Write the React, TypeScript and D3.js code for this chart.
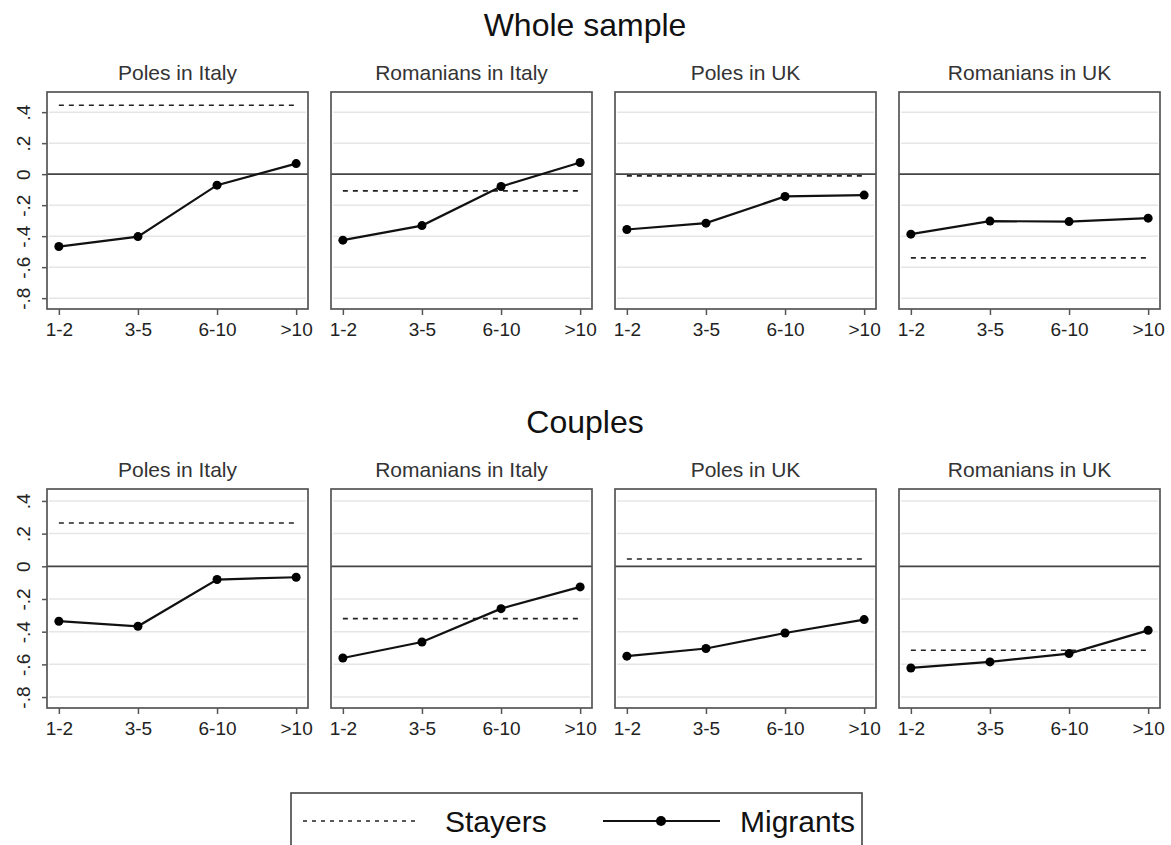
import React, { useEffect, useRef } from "react";
import * as d3 from "d3";

const categories = ["1-2", "3-5", "6-10", ">10"];
const groups = ["Poles in Italy", "Romanians in Italy", "Poles in UK", "Romanians in UK"];
const yTicks = [-0.8, -0.6, -0.4, -0.2, 0, 0.2, 0.4];

// whole sample
const wholeMigrants = [
  [-0.467, -0.403, -0.071, 0.068],
  [-0.426, -0.332, -0.08, 0.075],
  [-0.357, -0.316, -0.144, -0.135],
  [-0.387, -0.303, -0.306, -0.284]
];
const wholeStayers = [0.445, -0.108, -0.011, -0.54];

// couples
const couplesMigrants = [
  [-0.336, -0.367, -0.081, -0.067],
  [-0.561, -0.463, -0.259, -0.126],
  [-0.55, -0.503, -0.408, -0.326],
  [-0.622, -0.585, -0.534, -0.392]
];
const couplesStayers = [0.265, -0.32, 0.045, -0.514];

const FONT = "'Liberation Sans', Arial, sans-serif";

// stata style: -.8, .2, 0
const fmtTick = (v: number) => {
  if (v === 0) return "0";
  const s = Math.abs(v).toFixed(1).replace(/^0/, "");
  return (v < 0 ? "-" : "") + s;
};

export default function App() {
  const ref = useRef<SVGSVGElement>(null);

  useEffect(() => {
    const svg = d3.select(ref.current);
    svg.selectAll("*").remove();

    const panelLefts = [47, 331, 615, 899];
    const panelW = 261;

    const rows = [
      { title: "Whole sample", titleY: 36, top: 92, bottom: 309, dom: [-0.87, 0.53], migrants: wholeMigrants, stayers: wholeStayers },
      { title: "Couples", titleY: 433, top: 489, bottom: 708, dom: [-0.867, 0.473], migrants: couplesMigrants, stayers: couplesStayers }
    ];

    rows.forEach(row => {
      svg
        .append("text")
        .attr("x", 585)
        .attr("y", row.titleY)
        .attr("text-anchor", "middle")
        .attr("font-size", 32)
        .attr("fill", "#111")
        .text(row.title);

      const y = d3.scaleLinear().domain(row.dom).range([row.bottom, row.top]);

      groups.forEach((g, i) => {
        const left = panelLefts[i];
        const x = d3
          .scalePoint<string>()
          .domain(categories)
          .range([left, left + panelW])
          .padding(0.15);
        const p = svg.append("g");

        p.append("text")
          .attr("x", left + panelW / 2)
          .attr("y", row.top - 12)
          .attr("text-anchor", "middle")
          .attr("font-size", 21)
          .attr("fill", "#333")
          .text(g);

        // grid
        p.selectAll("line.grid")
          .data(yTicks.filter(t => t !== 0))
          .enter()
          .append("line")
          .attr("x1", left + 2)
          .attr("x2", left + panelW - 2)
          .attr("y1", d => y(d))
          .attr("y2", d => y(d))
          .attr("stroke", "#e6e6e6")
          .attr("stroke-width", 1.5);

        // zero line
        p.append("line")
          .attr("x1", left)
          .attr("x2", left + panelW)
          .attr("y1", y(0))
          .attr("y2", y(0))
          .attr("stroke", "#444")
          .attr("stroke-width", 1.7);

        // stayers
        p.append("line")
          .attr("x1", x(categories[0])!)
          .attr("x2", x(categories[categories.length - 1])!)
          .attr("y1", y(row.stayers[i]))
          .attr("y2", y(row.stayers[i]))
          .attr("stroke", "#222")
          .attr("stroke-width", 1.6)
          .attr("stroke-dasharray", "5,5");

        // migrants
        const line = d3
          .line<number>()
          .x((_, j) => x(categories[j])!)
          .y(d => y(d));
        p.append("path")
          .attr("d", line(row.migrants[i]))
          .attr("fill", "none")
          .attr("stroke", "#111")
          .attr("stroke-width", 2.2);
        p.selectAll("circle")
          .data(row.migrants[i])
          .enter()
          .append("circle")
          .attr("cx", (_, j) => x(categories[j])!)
          .attr("cy", d => y(d))
          .attr("r", 4.5)
          .attr("fill", "#000");

        // frame
        p.append("rect")
          .attr("x", left)
          .attr("y", row.top)
          .attr("width", panelW)
          .attr("height", row.bottom - row.top)
          .attr("fill", "none")
          .attr("stroke", "#555")
          .attr("stroke-width", 1.7);

        // x axis
        const xa = p.append("g").attr("transform", `translate(0,${row.bottom})`);
        xa.call(d3.axisBottom(x).tickSize(6).tickPadding(8));
        xa.select(".domain").remove();
        xa.selectAll("line").attr("stroke", "#555").attr("stroke-width", 1.5);
        xa.selectAll("text")
          .attr("font-size", 19)
          .attr("font-family", FONT)
          .attr("fill", "#222");

        if (i === 0) {
          const ya = p.append("g").attr("transform", `translate(${left},0)`);
          ya.call(
            d3
              .axisLeft(y)
              .tickValues(yTicks)
              .tickSize(5)
              .tickPadding(4)
              .tickFormat(d => fmtTick(+d))
          );
          ya.select(".domain").remove();
          ya.selectAll("line").attr("stroke", "#555").attr("stroke-width", 1.5);
          ya.selectAll("text")
            .attr("font-size", 19)
            .attr("font-family", FONT)
            .attr("fill", "#222")
            .attr("text-anchor", "middle")
            .attr("x", null)
            .attr("dy", null)
            .attr("transform", "translate(-17,0) rotate(-90)");
        }
      });
    });

    // legend
    const lg = svg.append("g");
    lg.append("rect")
      .attr("x", 291)
      .attr("y", 793)
      .attr("width", 571)
      .attr("height", 80)
      .attr("fill", "#fff")
      .attr("stroke", "#444")
      .attr("stroke-width", 1.6);
    lg.append("line")
      .attr("x1", 303)
      .attr("x2", 420)
      .attr("y1", 821)
      .attr("y2", 821)
      .attr("stroke", "#222")
      .attr("stroke-width", 1.5)
      .attr("stroke-dasharray", "4,5");
    lg.append("text")
      .attr("x", 445)
      .attr("y", 832)
      .attr("font-size", 30)
      .attr("fill", "#111")
      .text("Stayers");
    lg.append("line")
      .attr("x1", 603)
      .attr("x2", 720)
      .attr("y1", 821)
      .attr("y2", 821)
      .attr("stroke", "#111")
      .attr("stroke-width", 2.2);
    lg.append("circle").attr("cx", 661).attr("cy", 821).attr("r", 5).attr("fill", "#000");
    lg.append("text")
      .attr("x", 740)
      .attr("y", 832)
      .attr("font-size", 30)
      .attr("fill", "#111")
      .text("Migrants");
  }, []);

  return (
    <svg
      ref={ref}
      width={1171}
      height={845}
      style={{ position: "absolute", left: 0, top: 0, background: "#fff", fontFamily: FONT }}
    />
  );
}
